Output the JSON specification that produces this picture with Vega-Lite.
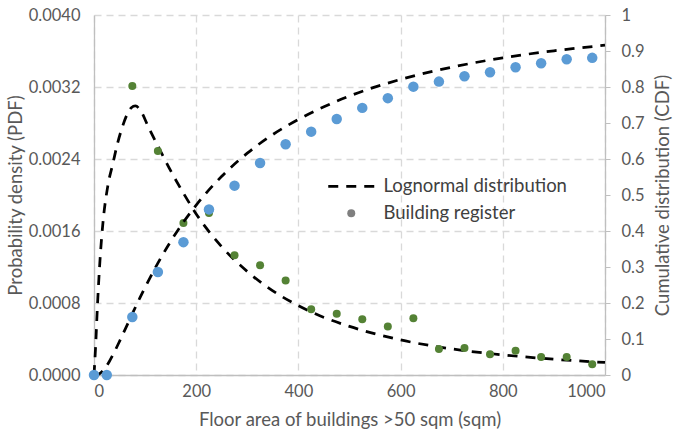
{
  "$schema": "https://vega.github.io/schema/vega-lite/v6.json",
  "width": 511,
  "height": 360,
  "autosize": {"type": "none"},
  "padding": {"left": 94, "top": 15, "right": 70, "bottom": 63},
  "background": "white",
  "config": {
    "font": "Lato",
    "view": {"stroke": null},
    "axis": {
      "labelFont": "Lato",
      "titleFont": "Lato",
      "labelColor": "#595959",
      "titleColor": "#595959",
      "labelFontSize": 16.5,
      "titleFontSize": 18.5,
      "titleFontWeight": "normal",
      "domainColor": "#bfbfbf",
      "domainWidth": 1.3,
      "tickColor": "#bfbfbf",
      "gridColor": "#d9d9d9",
      "gridDash": [7, 5],
      "gridWidth": 1.3
    },
    "legend": {
      "labelFont": "Lato",
      "labelFontSize": 18.5,
      "labelColor": "#404040",
      "labelLimit": 400,
      "symbolSize": 64,
      "labelOffset": 23
    }
  },
  "datasets": {
    "register": [
      {"series": "Building register", "area": 0, "pdf": 0, "cdf": 0},
      {"series": "Building register", "area": 25, "pdf": 0, "cdf": 0},
      {"series": "Building register", "area": 75, "pdf": 0.00321, "cdf": 0.161},
      {"series": "Building register", "area": 125, "pdf": 0.00249, "cdf": 0.286},
      {"series": "Building register", "area": 175, "pdf": 0.00169, "cdf": 0.369},
      {"series": "Building register", "area": 225, "pdf": 0.0018, "cdf": 0.46},
      {"series": "Building register", "area": 275, "pdf": 0.00133, "cdf": 0.526},
      {"series": "Building register", "area": 325, "pdf": 0.00122, "cdf": 0.589},
      {"series": "Building register", "area": 375, "pdf": 0.00105, "cdf": 0.641},
      {"series": "Building register", "area": 425, "pdf": 0.00073, "cdf": 0.676},
      {"series": "Building register", "area": 475, "pdf": 0.00068, "cdf": 0.711},
      {"series": "Building register", "area": 525, "pdf": 0.00062, "cdf": 0.742},
      {"series": "Building register", "area": 575, "pdf": 0.00054, "cdf": 0.769},
      {"series": "Building register", "area": 625, "pdf": 0.00063, "cdf": 0.801},
      {"series": "Building register", "area": 675, "pdf": 0.00029, "cdf": 0.815},
      {"series": "Building register", "area": 725, "pdf": 0.0003, "cdf": 0.83},
      {"series": "Building register", "area": 775, "pdf": 0.00023, "cdf": 0.841},
      {"series": "Building register", "area": 825, "pdf": 0.00027, "cdf": 0.855},
      {"series": "Building register", "area": 875, "pdf": 0.0002, "cdf": 0.866},
      {"series": "Building register", "area": 925, "pdf": 0.0002, "cdf": 0.877},
      {"series": "Building register", "area": 975, "pdf": 0.00012, "cdf": 0.881}
    ],
    "lognormal_pdf": [
      {"series": "Lognormal distribution", "area": 0, "pdf": 0},
      {"series": "Lognormal distribution", "area": 3, "pdf": 0.0003},
      {"series": "Lognormal distribution", "area": 7, "pdf": 0.0008},
      {"series": "Lognormal distribution", "area": 12, "pdf": 0.0013},
      {"series": "Lognormal distribution", "area": 18, "pdf": 0.00172},
      {"series": "Lognormal distribution", "area": 27, "pdf": 0.0021},
      {"series": "Lognormal distribution", "area": 37, "pdf": 0.00235},
      {"series": "Lognormal distribution", "area": 45, "pdf": 0.00255},
      {"series": "Lognormal distribution", "area": 54, "pdf": 0.00273},
      {"series": "Lognormal distribution", "area": 66, "pdf": 0.00291},
      {"series": "Lognormal distribution", "area": 73, "pdf": 0.00297},
      {"series": "Lognormal distribution", "area": 81, "pdf": 0.00299},
      {"series": "Lognormal distribution", "area": 93, "pdf": 0.00292},
      {"series": "Lognormal distribution", "area": 106, "pdf": 0.00276},
      {"series": "Lognormal distribution", "area": 125, "pdf": 0.002545},
      {"series": "Lognormal distribution", "area": 150, "pdf": 0.00227},
      {"series": "Lognormal distribution", "area": 175, "pdf": 0.00202},
      {"series": "Lognormal distribution", "area": 200, "pdf": 0.00179},
      {"series": "Lognormal distribution", "area": 250, "pdf": 0.001425},
      {"series": "Lognormal distribution", "area": 300, "pdf": 0.00115},
      {"series": "Lognormal distribution", "area": 350, "pdf": 0.000935},
      {"series": "Lognormal distribution", "area": 400, "pdf": 0.00077},
      {"series": "Lognormal distribution", "area": 450, "pdf": 0.00064},
      {"series": "Lognormal distribution", "area": 500, "pdf": 0.00054},
      {"series": "Lognormal distribution", "area": 600, "pdf": 0.00039},
      {"series": "Lognormal distribution", "area": 700, "pdf": 0.00029},
      {"series": "Lognormal distribution", "area": 800, "pdf": 0.000224},
      {"series": "Lognormal distribution", "area": 900, "pdf": 0.000175},
      {"series": "Lognormal distribution", "area": 1000, "pdf": 0.000139}
    ],
    "lognormal_cdf": [
      {"series": "Lognormal distribution", "area": 0, "cdf": 0},
      {"series": "Lognormal distribution", "area": 5, "cdf": 0.0003},
      {"series": "Lognormal distribution", "area": 10, "cdf": 0.0028},
      {"series": "Lognormal distribution", "area": 15, "cdf": 0.0081},
      {"series": "Lognormal distribution", "area": 20, "cdf": 0.016},
      {"series": "Lognormal distribution", "area": 30, "cdf": 0.0376},
      {"series": "Lognormal distribution", "area": 40, "cdf": 0.0643},
      {"series": "Lognormal distribution", "area": 50, "cdf": 0.0936},
      {"series": "Lognormal distribution", "area": 60, "cdf": 0.124},
      {"series": "Lognormal distribution", "area": 75, "cdf": 0.17},
      {"series": "Lognormal distribution", "area": 90, "cdf": 0.215},
      {"series": "Lognormal distribution", "area": 100, "cdf": 0.2436},
      {"series": "Lognormal distribution", "area": 125, "cdf": 0.3107},
      {"series": "Lognormal distribution", "area": 150, "cdf": 0.371},
      {"series": "Lognormal distribution", "area": 175, "cdf": 0.4247},
      {"series": "Lognormal distribution", "area": 200, "cdf": 0.472},
      {"series": "Lognormal distribution", "area": 250, "cdf": 0.552},
      {"series": "Lognormal distribution", "area": 300, "cdf": 0.6162},
      {"series": "Lognormal distribution", "area": 350, "cdf": 0.668},
      {"series": "Lognormal distribution", "area": 400, "cdf": 0.71},
      {"series": "Lognormal distribution", "area": 450, "cdf": 0.745},
      {"series": "Lognormal distribution", "area": 500, "cdf": 0.775},
      {"series": "Lognormal distribution", "area": 600, "cdf": 0.821},
      {"series": "Lognormal distribution", "area": 700, "cdf": 0.855},
      {"series": "Lognormal distribution", "area": 800, "cdf": 0.881},
      {"series": "Lognormal distribution", "area": 900, "cdf": 0.9006},
      {"series": "Lognormal distribution", "area": 1000, "cdf": 0.916}
    ]
  },
  "layer": [
    {
      "encoding": {
        "x": {
          "field": "area",
          "type": "quantitative",
          "scale": {"domain": [0, 1000], "nice": false},
          "axis": {
            "title": "Floor area of buildings >50 sqm (sqm)",
            "values": [0, 200, 400, 600, 800, 1000],
            "format": "d",
            "grid": true,
            "ticks": false,
            "labelPadding": 8,
            "titlePadding": 11
          }
        },
        "y": {
          "field": "pdf",
          "type": "quantitative",
          "scale": {"domain": [0, 0.004], "nice": false},
          "axis": {
            "title": "Probability density (PDF)",
            "values": [0, 0.0008, 0.0016, 0.0024, 0.0032, 0.004],
            "format": ".4f",
            "grid": true,
            "ticks": false,
            "labelPadding": 14,
            "titlePadding": 3
          }
        }
      },
      "layer": [
        {
          "data": {"name": "register"},
          "mark": {"type": "point", "filled": true, "color": "#7f7f7f", "size": 64, "opacity": 0},
          "encoding": {
            "shape": {
              "field": "series",
              "type": "nominal",
              "scale": {"domain": ["Building register"], "range": ["circle"]},
              "legend": {
                "title": null,
                "orient": "none",
                "legendX": 248,
                "legendY": 189,
                "symbolOpacity": 1,
                "symbolSize": 64,
                "symbolFillColor": "#7f7f7f",
                "symbolStrokeWidth": 0
              }
            }
          }
        },
        {
          "data": {"name": "lognormal_pdf"},
          "mark": {"type": "line", "color": "black", "strokeWidth": 2.75, "interpolate": "monotone"},
          "encoding": {
            "strokeDash": {
              "field": "series",
              "type": "nominal",
              "scale": {"domain": ["Lognormal distribution"], "range": [[10, 8]]},
              "legend": {
                "title": null,
                "orient": "none",
                "legendX": 248,
                "legendY": 162,
                "symbolType": "M-5.75,0H5.75",
                "symbolSize": 64,
                "symbolStrokeColor": "black",
                "symbolStrokeWidth": 2.75,
                "symbolOpacity": 1
              }
            }
          }
        },
        {
          "data": {"name": "register"},
          "mark": {"type": "point", "shape": "circle", "filled": true, "color": "#548235", "size": 64, "opacity": 1}
        }
      ]
    },
    {
      "encoding": {
        "x": {"field": "area", "type": "quantitative", "scale": {"domain": [0, 1000], "nice": false}},
        "y": {
          "field": "cdf",
          "type": "quantitative",
          "scale": {"domain": [0, 1], "nice": false},
          "axis": {
            "title": "Cumulative distribution (CDF)",
            "orient": "right",
            "values": [0, 0.1, 0.2, 0.3, 0.4, 0.5, 0.6, 0.7, 0.8, 0.9, 1],
            "format": ".1~f",
            "grid": false,
            "ticks": true,
            "tickSize": 5,
            "labelPadding": 11,
            "titlePadding": 9,
            "titleAngle": 270,
            "titleBaseline": "top"
          }
        }
      },
      "layer": [
        {
          "data": {"name": "lognormal_cdf"},
          "mark": {"type": "line", "color": "black", "strokeWidth": 2.75, "interpolate": "monotone"},
          "encoding": {
            "strokeDash": {"field": "series", "type": "nominal"}
          }
        },
        {
          "data": {"name": "register"},
          "mark": {"type": "point", "shape": "circle", "filled": true, "color": "#5b9bd5", "size": 110, "opacity": 1}
        }
      ]
    }
  ],
  "resolve": {"scale": {"y": "independent"}}
}
